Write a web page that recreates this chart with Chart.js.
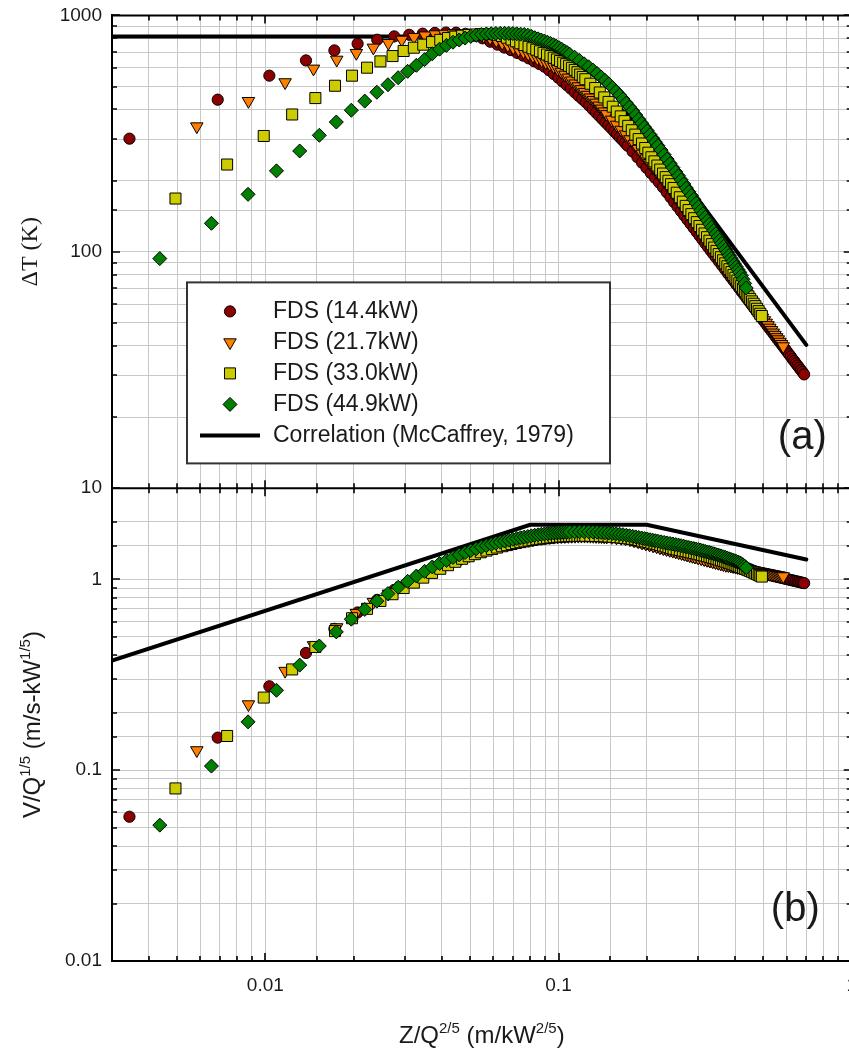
<!DOCTYPE html>
<html lang="en">
  <head>
    <meta charset="UTF-8" />
    <title>Plume temperature rise and velocity</title>
    <script src="https://cdn.jsdelivr.net/npm/chart.js"></script>
    <style>
      html,
      body {
        margin: 0;
        padding: 0;
        background: #fff;
        overflow: hidden;
      }
      #plot {
        position: absolute;
        left: 0;
        top: 0;
      }
    </style>
  </head>
  <body>
    <canvas id="plot" width="860" height="1053"></canvas>
    <script>
      // measurement heights above the burner (m), shared by all four runs
      const heights = [
        0.01, 0.02, 0.03, 0.04, 0.05, 0.06, 0.07, 0.08, 0.09, 0.1, 0.11, 0.12,
        0.13, 0.14, 0.15, 0.16, 0.17, 0.18, 0.19, 0.2,
        0.21, 0.22, 0.23, 0.24, 0.25, 0.26, 0.27, 0.28, 0.29, 0.3, 0.31, 0.32,
        0.33, 0.34, 0.35, 0.36, 0.37, 0.38, 0.39, 0.4, 0.41, 0.42, 0.43, 0.44,
        0.45, 0.46, 0.47, 0.48, 0.49, 0.5,
        0.52, 0.54, 0.56, 0.58, 0.6, 0.62, 0.64, 0.66, 0.68, 0.7, 0.72, 0.74,
        0.76, 0.78, 0.8, 0.82, 0.84, 0.86, 0.88, 0.9, 0.92, 0.94, 0.96, 0.98, 1.0,
        1.025, 1.05, 1.075, 1.1, 1.125, 1.15, 1.175, 1.2, 1.225, 1.25, 1.275,
        1.3, 1.325, 1.35, 1.375, 1.4, 1.425, 1.45, 1.475, 1.5, 1.525, 1.55,
        1.575, 1.6, 1.625, 1.65, 1.675, 1.7, 1.725, 1.75, 1.775, 1.8, 1.825,
        1.85, 1.875, 1.9, 1.925, 1.95, 1.975, 2.0,
      ];
      const heatRelease = [14.4, 21.7, 33.0, 44.9]; // kW
      const seriesLabels = [
        "FDS (14.4kW)",
        "FDS (21.7kW)",
        "FDS (33.0kW)",
        "FDS (44.9kW)",
      ];
      const correlationLabel = "Correlation (McCaffrey, 1979)";

      // temperature rise (K)
      const deltaT144 = [
        301, 440, 556, 645, 711, 759, 789, 815, 828, 837, 843, 846, 845, 836,
        820, 800, 774, 752, 731, 713,
        694, 676, 658, 640, 623, 607, 586, 565, 545, 525, 507, 490, 473, 457,
        443, 429, 415, 401, 388, 376, 364, 353, 343, 333, 323, 314, 305, 297,
        289, 281,
        265.7, 251.3, 238.2, 226.4, 215.4, 205.6, 196.5, 187.5, 178.4, 170.2,
        162.4, 155.3, 148.6, 142.4, 136.6, 131.2, 126.1, 121.3, 116.8, 112.6,
        108.6, 104.8, 101.2, 97.9, 94.7,
        90.9, 87.4, 84.1, 80.9, 78.0, 75.3, 72.6, 70.2, 67.8, 65.6, 63.5, 61.5,
        59.6, 57.8, 56.1, 54.5, 52.9, 51.4, 50.0, 48.6, 47.3, 46.1, 44.9, 43.7,
        42.6, 41.6, 40.6, 39.6, 38.7, 37.8, 36.9, 36.1, 35.2, 34.5, 33.7, 33.0,
        32.3, 31.6, 31.0, 30.3,
      ];
      const deltaT217 = [
        null, 339, 434, 521, 595, 649, 693, 730, 764, 789, 809, 822, 831, 836,
        838, 837, 833, 826, 818, 802,
        783, 764, 747, 730, 715, 701, 687, 673, 658, 644, 632, 621, 607, 593,
        577, 561, 545, 530, 515, 501, 487, 474, 461, 449, 438, 427, 415, 403,
        392, 382,
        362, 344.6, 328.1, 313.6, 299.1, 285.7, 272.3, 259.7, 248.1, 237.2,
        227.2, 217.8, 209.0, 200.9, 193.4, 185.5, 177.8, 170.6, 163.8, 157.5,
        151.5, 145.8, 140.5, 135.5, 130.7,
        125.3, 120.2, 115.5, 111.1, 106.9, 102.9, 99.2, 95.7, 92.4, 89.2, 86.2,
        83.4, 80.7, 78.1, 75.7, 73.4, 71.2, 69.1, 67.1, 65.1, 63.3, 61.6, 59.9,
        58.3, 56.9, 55.4, 54.0, 52.6, 51.3, 50.1, 48.9, 47.7, 46.6, 45.5, 44.5,
        43.5, 42.6, 41.6, 40.7, 39.8,
      ];
      const deltaT330 = [
        null, 168, 234, 309, 381, 447, 504, 556, 601, 639, 673, 707, 730, 752,
        771, 788, 802, 813, 821, 827,
        830, 833, 834, 834, 828, 818, 805, 791, 777, 762, 749, 737, 726, 716,
        705, 694, 683, 673, 662, 651, 641, 631, 622, 612, 600, 588, 575, 562,
        549, 537,
        514, 493, 472, 450, 430.5, 411, 392, 374, 357, 341, 326.8, 313.1, 299.7,
        287.2, 274.8, 262.5, 251.1, 241.3, 231.7, 222.8, 214.3, 206.9, 199.8,
        193.2, 186.2,
        177.8, 170.1, 163.0, 156.4, 150.1, 144.3, 138.7, 133.5, 128.6, 123.9,
        119.5, 115.3, 111.4, 107.7, 104.2, 100.9, 97.8, 94.9, 92.1, 89.4, 86.9,
        84.4, 82.1, 79.8, 77.7, 75.6, 73.6, 71.7, 69.9, 68.1, 66.4, 64.8, 63.2,
        61.7, 60.3, 58.9, 57.4, 56.1, 54.7, 53.5,
      ];
      const deltaT449 = [
        null, 93.6, 132, 175, 220, 267, 311, 354, 397, 434, 473, 509, 545, 580,
        615, 650, 688, 720, 747, 770,
        787, 802, 815, 825, 831, 835, 837, 839, 840, 840, 839, 838, 836, 833,
        830, 825, 816, 805, 796, 787, 779, 770, 761, 752, 741, 730, 719, 707,
        696, 685,
        665, 645, 624, 606, 587, 568, 549, 531, 513, 495, 477, 460, 443, 426,
        410, 395, 379, 364, 350, 337, 325, 313, 302, 291, 281,
        269.4, 257.5, 246.7, 236.5, 227, 218, 209.6, 201.6, 193.6, 186, 179.4,
        173, 166.7, 160.7, 155.1, 149.8, 144.8, 140, 135.4, 131, 126.9, 123,
        119.2, 115.5, 112, 108.6, 105.4, 102.3, 99.3, 96.5, 93.8, 91.2, 88.7,
        86.4, 84.1, 81.9, 79.3, 76.5, 73.5, 70.3,
      ];

      // scaled velocity V/Q^(1/5)
      const velocity144 = [
        0.057, 0.148, 0.275, 0.411, 0.55, 0.67, 0.78, 0.88, 0.965, 1.045, 1.12,
        1.19, 1.25, 1.31, 1.36, 1.405, 1.445, 1.48, 1.515, 1.545,
        1.57, 1.59, 1.608, 1.625, 1.638, 1.65, 1.66, 1.67, 1.675, 1.68, 1.683,
        1.685, 1.687, 1.688, 1.688, 1.688, 1.687, 1.685, 1.683, 1.68, 1.676,
        1.672, 1.668, 1.663, 1.659, 1.655, 1.649, 1.643, 1.635, 1.625,
        1.598, 1.578, 1.5545, 1.5324, 1.5112, 1.4911, 1.4717, 1.4533, 1.4356,
        1.4186, 1.4024, 1.3867, 1.3717, 1.3571, 1.3431, 1.3296, 1.3165, 1.3038,
        1.2916, 1.2798, 1.2683, 1.2572, 1.2464, 1.2359, 1.2256,
        1.2138, 1.2034, 1.1932, 1.1834, 1.1738, 1.1646, 1.1556, 1.1469, 1.1384,
        1.1302, 1.1221, 1.1143, 1.1067, 1.0993, 1.0921, 1.085, 1.0781, 1.0714,
        1.0648, 1.0584, 1.0521, 1.046, 1.04, 1.0341, 1.0284, 1.0227, 1.0172,
        1.0118, 1.0065, 1.0013, 0.9962, 0.9912, 0.9863, 0.9815, 0.9768, 0.9721,
        0.9675, 0.963, 0.9586, 0.9543,
      ];
      const velocity217 = [
        null, 0.127, 0.221, 0.331, 0.451, 0.56, 0.665, 0.76, 0.84, 0.925, 0.99,
        1.06, 1.12, 1.18, 1.24, 1.29, 1.335, 1.375, 1.41, 1.445,
        1.474, 1.5, 1.526, 1.55, 1.571, 1.59, 1.606, 1.62, 1.633, 1.645, 1.653,
        1.66, 1.667, 1.673, 1.677, 1.68, 1.683, 1.685, 1.686, 1.687, 1.688,
        1.688, 1.687, 1.686, 1.684, 1.682, 1.68, 1.677, 1.674, 1.67,
        1.663, 1.653, 1.645, 1.633, 1.618, 1.595, 1.577, 1.5544, 1.5355, 1.5174,
        1.4999, 1.4831, 1.4671, 1.4516, 1.4366, 1.4221, 1.4081, 1.3946, 1.3815,
        1.3689, 1.3566, 1.3447, 1.3331, 1.3219, 1.311,
        1.2978, 1.285, 1.2726, 1.2607, 1.2491, 1.238, 1.227, 1.2165, 1.2063,
        1.1963, 1.1866, 1.1832, 1.1762, 1.1694, 1.1628, 1.1563, 1.15, 1.1438,
        1.1377, 1.1318, 1.1261, 1.1204, 1.1149, 1.1094, 1.1041, 1.0989, 1.0938,
        1.0888, 1.0839, 1.0791, 1.0743, 1.0697, 1.0651, 1.0606, 1.0562, 1.0519,
        1.0476, 1.0434, 1.0393, 1.0353,
      ];
      const velocity330 = [
        null, 0.0802, 0.151, 0.24, 0.337, 0.442, 0.535, 0.625, 0.7, 0.77, 0.835,
        0.9, 0.96, 1.02, 1.08, 1.135, 1.185, 1.235, 1.28, 1.32,
        1.354, 1.385, 1.413, 1.44, 1.466, 1.49, 1.51, 1.53, 1.548, 1.565, 1.58,
        1.595, 1.608, 1.62, 1.63, 1.64, 1.648, 1.655, 1.662, 1.668, 1.673,
        1.677, 1.68, 1.683, 1.685, 1.687, 1.688, 1.689, 1.69, 1.69,
        1.689, 1.687, 1.684, 1.68, 1.675, 1.67, 1.663, 1.656, 1.648, 1.639,
        1.63, 1.62, 1.607, 1.593, 1.58, 1.567, 1.553, 1.54, 1.527, 1.513, 1.5,
        1.487, 1.473, 1.46, 1.445,
        1.4338, 1.4236, 1.4133, 1.403, 1.3927, 1.3824, 1.3722, 1.3619, 1.3516,
        1.3413, 1.3311, 1.3208, 1.3105, 1.3002, 1.2899, 1.2797, 1.2694, 1.2591,
        1.2488, 1.2386, 1.2283, 1.218, 1.2077, 1.1974, 1.1872, 1.1769, 1.1666,
        1.1563, 1.1461, 1.1358, 1.1255, 1.1152, 1.1049, 1.0947, 1.0844, 1.0741,
        1.0638, 1.0536, 1.0433, 1.033,
      ];
      const velocity449 = [
        null, 0.0515, 0.105, 0.179, 0.262, 0.355, 0.447, 0.53, 0.618, 0.695,
        0.768, 0.841, 0.908, 0.975, 1.04, 1.1, 1.16, 1.21, 1.255, 1.3,
        1.342, 1.38, 1.414, 1.445, 1.474, 1.5, 1.523, 1.545, 1.566, 1.585, 1.603,
        1.62, 1.636, 1.65, 1.663, 1.675, 1.688, 1.7, 1.71, 1.72, 1.728, 1.735,
        1.743, 1.75, 1.755, 1.76, 1.763, 1.765, 1.768, 1.77,
        1.772, 1.774, 1.775, 1.773, 1.77, 1.765, 1.76, 1.754, 1.748, 1.741,
        1.732, 1.722, 1.712, 1.701, 1.69, 1.679, 1.667, 1.656, 1.645, 1.634,
        1.623, 1.612, 1.602, 1.592, 1.582,
        1.571, 1.56, 1.55, 1.54, 1.53, 1.52, 1.51, 1.5, 1.489, 1.478, 1.468,
        1.458, 1.449, 1.44, 1.43, 1.42, 1.41, 1.4, 1.39, 1.38, 1.37, 1.36, 1.35,
        1.34, 1.33, 1.32, 1.31, 1.3, 1.29, 1.28, 1.27, 1.26, 1.25, 1.24, 1.23,
        1.22, 1.206, 1.19, 1.172, 1.15,
      ];

      // McCaffrey correlation: flame / intermittent / plume break points
      const corrX = [0.003, 0.08, 0.2, 0.7];
      const corrTemp = [815, 815, 326, 40.4];
      const corrVel = [0.375, 1.93, 1.93, 1.27];

      const xTickLabels = ["0.01", "0.1", "1"];
      const tempTickLabels = ["10", "100", "1000"];
      const velTickLabels = ["0.01", "0.1", "1"];

      const markerStyles = [
        { color: "#8b0000", pointStyle: "circle", radius: 5.6, rotation: 0 },
        { color: "#ff8000", pointStyle: "triangle", radius: 7.2, rotation: 180 },
        { color: "#cccc00", pointStyle: "rect", radius: 7.8, rotation: 0 },
        { color: "#008000", pointStyle: "rectRot", radius: 7, rotation: 0 },
      ];

      const sansFont = '"Liberation Sans", Arial, sans-serif';
      Chart.defaults.font.family = sansFont;

      function toPoints(q, values) {
        const qScale = Math.pow(q, 0.4); // Z / Q^(2/5)
        const pts = [];
        heights.forEach((z, i) => {
          if (values[i] !== null) pts.push({ x: z / qScale, y: values[i] });
        });
        return pts;
      }

      function pickLabel(value, list) {
        const s = String(Number(value.toPrecision(6)));
        return list.includes(s) ? s : "";
      }

      function isDecade(v) {
        const e = Math.log10(v);
        return Math.abs(e - Math.round(e)) < 1e-6;
      }

      const datasets = [];
      [
        ["yT", [deltaT144, deltaT217, deltaT330, deltaT449]],
        ["yV", [velocity144, velocity217, velocity330, velocity449]],
      ].forEach(([axis, series]) => {
        series.forEach((vals, i) => {
          const m = markerStyles[i];
          datasets.push({
            label: seriesLabels[i],
            data: toPoints(heatRelease[i], vals),
            yAxisID: axis,
            showLine: false,
            pointStyle: m.pointStyle,
            pointRadius: m.radius,
            pointRotation: m.rotation,
            pointBackgroundColor: m.color,
            pointBorderColor: "#000",
            pointBorderWidth: 1,
            order: 4 - i,
          });
        });
      });
      [
        ["yT", corrTemp],
        ["yV", corrVel],
      ].forEach(([axis, vals]) => {
        datasets.push({
          label: correlationLabel,
          data: corrX.map((x, i) => ({ x: x, y: vals[i] })),
          yAxisID: axis,
          showLine: true,
          borderColor: "#000",
          borderWidth: 4,
          borderCapStyle: "round",
          pointRadius: 0,
          order: 9,
        });
      });

      function drawRich(ctx, parts, x, y) {
        const base = "24px " + sansFont;
        const sup = "15px " + sansFont;
        let total = 0;
        parts.forEach(([t, s]) => {
          ctx.font = s ? sup : base;
          total += ctx.measureText(t).width;
        });
        let cx = x - total / 2;
        parts.forEach(([t, s]) => {
          ctx.font = s ? sup : base;
          ctx.fillText(t, cx, s ? y - 10 : y);
          cx += ctx.measureText(t).width;
        });
      }

      const framePlugin = {
        id: "frame",
        afterDraw(chart) {
          const { ctx, chartArea: a } = chart;
          const sx = chart.scales.x;
          const sT = chart.scales.yT;
          const sV = chart.scales.yV;
          const mid = sT.bottom;
          ctx.save();

          // box and panel divider
          ctx.strokeStyle = "#000";
          ctx.lineWidth = 2;
          ctx.beginPath();
          ctx.moveTo(a.left, a.top);
          ctx.lineTo(a.right, a.top);
          ctx.lineTo(a.right, a.bottom);
          ctx.moveTo(a.left, mid);
          ctx.lineTo(a.right, mid);
          ctx.stroke();

          // inward ticks
          ctx.lineWidth = 1.6;
          ctx.beginPath();
          sx.ticks.forEach((t) => {
            const px = Math.round(sx.getPixelForValue(t.value));
            const len = isDecade(t.value) ? 8 : 5;
            ctx.moveTo(px, a.bottom);
            ctx.lineTo(px, a.bottom - len);
            ctx.moveTo(px, a.top);
            ctx.lineTo(px, a.top + len);
            ctx.moveTo(px, mid - len);
            ctx.lineTo(px, mid + len);
          });
          [sT, sV].forEach((s) =>
            s.ticks.forEach((t) => {
              const py = Math.round(s.getPixelForValue(t.value));
              const len = isDecade(t.value) ? 8 : 5;
              ctx.moveTo(a.left, py);
              ctx.lineTo(a.left + len, py);
              ctx.moveTo(a.right, py);
              ctx.lineTo(a.right - len, py);
            })
          );
          ctx.stroke();

          // axis titles
          ctx.fillStyle = "#1a1a1a";
          ctx.textBaseline = "alphabetic";
          ctx.textAlign = "left";
          drawRich(
            ctx,
            [["Z/Q", false], ["2/5", true], [" (m/kW", false], ["2/5", true], [")", false]],
            (a.left + a.right) / 2,
            a.bottom + 82
          );
          ctx.save();
          ctx.translate(40, (sV.top + sV.bottom) / 2);
          ctx.rotate(-Math.PI / 2);
          drawRich(
            ctx,
            [["V/Q", false], ["1/5", true], [" (m/s-kW", false], ["1/5", true], [")", false]],
            0,
            0
          );
          ctx.restore();
          ctx.save();
          ctx.translate(37, (sT.top + sT.bottom) / 2);
          ctx.rotate(-Math.PI / 2);
          ctx.font = '24px "Liberation Serif", "Times New Roman", serif';
          ctx.textAlign = "center";
          ctx.fillText("\u0394T (K)", 0, 0);
          ctx.restore();

          // panel tags
          ctx.font = "40px " + sansFont;
          ctx.textAlign = "right";
          ctx.fillText("(a)", a.right - 25, mid - 39);
          ctx.fillText("(b)", a.right - 32, a.bottom - 40);

          // legend
          const lx = a.left + 75;
          const ly = a.top + 267;
          ctx.fillStyle = "#fff";
          ctx.fillRect(lx, ly, 423, 181);
          ctx.strokeStyle = "#333";
          ctx.lineWidth = 2;
          ctx.strokeRect(lx, ly, 423, 181);
          ctx.font = "23px " + sansFont;
          ctx.textAlign = "left";
          ctx.textBaseline = "middle";
          const drawPoint = Chart.helpers && Chart.helpers.drawPoint;
          markerStyles.forEach((m, i) => {
            const y = ly + 29 + 31 * i;
            ctx.fillStyle = m.color;
            ctx.strokeStyle = "#000";
            ctx.lineWidth = 1;
            if (drawPoint) {
              drawPoint(
                ctx,
                {
                  pointStyle: m.pointStyle,
                  radius: m.radius,
                  rotation: m.rotation,
                  borderWidth: 1,
                },
                lx + 43,
                y
              );
            }
            ctx.fillStyle = "#1a1a1a";
            ctx.fillText(seriesLabels[i], lx + 86, y);
          });
          const cy = ly + 29 + 31 * 4;
          ctx.strokeStyle = "#000";
          ctx.lineWidth = 4;
          ctx.beginPath();
          ctx.moveTo(lx + 13, cy);
          ctx.lineTo(lx + 73, cy);
          ctx.stroke();
          ctx.fillStyle = "#1a1a1a";
          ctx.fillText(correlationLabel, lx + 86, cy);

          ctx.restore();
        },
      };

      const gridStyle = { color: "#c8c8c8", lineWidth: 1, drawTicks: false };
      const borderStyle = { display: true, color: "#000", width: 2 };

      const canvas = document.getElementById("plot");
      const chart = new Chart(canvas, {
        type: "scatter",
        data: { datasets: datasets },
        options: {
          responsive: false,
          maintainAspectRatio: false,
          animation: false,
          events: [],
          layout: { padding: { top: 15, right: 8, bottom: 0, left: 0 } },
          plugins: {
            legend: { display: false },
            tooltip: { enabled: false },
          },
          scales: {
            x: {
              type: "logarithmic",
              position: "bottom",
              min: 0.003,
              max: 1,
              grid: gridStyle,
              border: borderStyle,
              ticks: {
                autoSkip: false,
                maxRotation: 0,
                minRotation: 0,
                padding: 13,
                color: "#1a1a1a",
                font: { size: 19 },
                callback: (v) => pickLabel(v, xTickLabels),
              },
              afterFit: (s) => {
                s.height = 92;
              },
            },
            yV: {
              type: "logarithmic",
              position: "left",
              stack: "panels",
              stackWeight: 1,
              weight: 1,
              min: 0.01,
              max: 3,
              grid: gridStyle,
              border: borderStyle,
              ticks: {
                autoSkip: false,
                padding: 10,
                color: "#1a1a1a",
                font: { size: 19 },
                callback: (v) => pickLabel(v, velTickLabels),
              },
              afterFit: (s) => {
                s.width = 112;
              },
            },
            yT: {
              type: "logarithmic",
              position: "left",
              stack: "panels",
              stackWeight: 1,
              weight: 2,
              min: 10,
              max: 1000,
              grid: gridStyle,
              border: borderStyle,
              ticks: {
                autoSkip: false,
                padding: 10,
                color: "#1a1a1a",
                font: { size: 19 },
                callback: (v) => pickLabel(v, tempTickLabels),
              },
              afterFit: (s) => {
                s.width = 112;
              },
            },
          },
        },
        plugins: [framePlugin],
      });

      // pin the plot box to 15..961 px vertically and 112..852 px horizontally
      const shiftTop = Math.round(chart.chartArea.top - 15);
      const growRight = Math.round(852 - chart.chartArea.right);
      if (shiftTop !== 0 || growRight !== 0) {
        canvas.style.top = -shiftTop + "px";
        chart.resize(chart.width + growRight, chart.height + shiftTop);
      }
    </script>
  </body>
</html>
